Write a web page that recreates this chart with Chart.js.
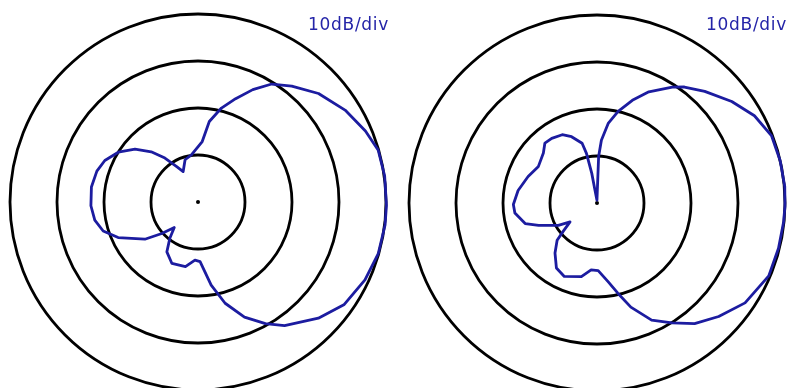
<!DOCTYPE html>
<html>
<head>
<meta charset="utf-8">
<script src="https://cdn.jsdelivr.net/npm/chart.js@4.4.1/dist/chart.umd.min.js"></script>
<style>
  html, body { margin: 0; padding: 0; background: #fff; }
  body { width: 790px; height: 388px; position: relative; overflow: hidden; }
  .plot { position: absolute; width: 388px; height: 388px; }
  #left-plot { left: 4px; top: 8px; }
  #right-plot { left: 403px; top: 9px; }
  .scale-note {
    position: absolute;
    font-family: "DejaVu Sans", Verdana, sans-serif;
    font-size: 17px;
    line-height: 17px;
    letter-spacing: 0.7px;
    color: #2424a8;
    white-space: nowrap;
  }
</style>
</head>
<body>
<div class="plot" id="left-plot"><canvas id="left-chart"></canvas></div>
<div class="plot" id="right-plot"><canvas id="right-chart"></canvas></div>
<div class="scale-note" style="left:308px; top:16px;">10dB/div</div>
<div class="scale-note" style="left:706px; top:16px;">10dB/div</div>
<script>
// one label per degree, clockwise from the top
const angleLabels = Array.from({ length: 360 }, (_, i) => i);

// ring values in dB (outer ring = 0 dB, centre = -40 dB)
const ringMin = -40;
const ringMax = 0;
const ringStep = 10;

// left pattern: angle (deg) and level (dB)
const leftAngles = [4, 8, 14, 20, 26, 32, 39, 48, 58, 67, 74, 82, 91, 97, 106, 115, 125, 134, 145, 151,
  158, 165, 171, 178, 183, 191, 203, 212, 218, 223, 229, 235, 246, 253, 260, 268, 278, 287, 294, 302,
  310, 317, 323, 329, 334, 343, 352];
const leftDb = [-27.1, -22.7, -19.4, -16.6, -13.4, -10.4, -8.3, -5.5, -3.1, -1.3, -0.1, 0.1, 0.1, 0.1, -0.1, -0.8, -2.0, -4.4, -7.9, -10.4,
  -13.6, -17.7, -22.1, -27.3, -27.6, -26.0, -25.8, -27.5, -30.3, -32.6, -29.8, -26.2, -21.4, -18.9, -17.7, -17.2, -17.1, -17.5, -18.3, -20.0,
  -22.5, -25.4, -28.3, -31.2, -32.8, -30.6, -29.9];

// right pattern: angle (deg) and level (dB)
const rightAngles = [2, 4, 8, 13, 19, 25, 33, 37, 44, 53, 61, 69, 77, 85, 91, 96, 104, 113, 124, 133,
  141, 148, 155, 162, 167, 172, 179, 185, 192, 204, 212, 220, 227, 230, 235, 240, 249, 254, 263, 269,
  279, 291, 302, 313, 319, 325, 333, 339, 346, 348, 350, 351, 359];
const rightDb = [-30.1, -26.6, -22.9, -20.0, -16.9, -13.9, -10.6, -9.1, -7.0, -4.1, -1.7, -0.2, 0.0, 0.1, 0.0, -0.1, -0.2, -0.3, -2.0, -4.6,
  -7.0, -9.9, -12.5, -16.7, -20.3, -23.1, -25.6, -25.7, -24.0, -22.9, -23.7, -26.1, -28.4, -30.6, -33.0, -30.5, -26.7, -24.1, -22.4, -22.2,
  -23.0, -24.3, -25.3, -24.4, -23.1, -23.2, -23.7, -24.9, -26.9, -29.2, -33.6, -37.2, -39.4];

const centreAngles = [0];
const centreDb = [-40];

const patternColor = '#1c1ca0';
const ringColor = '#000000';

function toSeries(angles, values) {
    const series = angleLabels.map(() => null);
    angles.forEach((a, i) => { series[a] = values[i]; });
    return series;
}

function makePolar(canvasId, angles, values) {
    const ctx = document.getElementById(canvasId).getContext('2d');
    return new Chart(ctx, {
        type: 'radar',
        data: {
            labels: angleLabels,
            datasets: [{
                data: toSeries(angles, values),
                borderColor: patternColor,
                borderWidth: 2.8,
                borderJoinStyle: 'round',
                pointRadius: 0,
                fill: false,
                spanGaps: true,
                tension: 0
            }, {
                data: toSeries(centreAngles, centreDb),
                borderWidth: 0,
                pointRadius: 2,
                pointBorderWidth: 0,
                pointBackgroundColor: ringColor,
                fill: false
            }]
        },
        options: {
            responsive: true,
            maintainAspectRatio: false,
            animation: false,
            layout: { padding: 6 },
            plugins: { legend: { display: false }, tooltip: { enabled: false } },
            scales: {
                r: {
                    min: ringMin,
                    max: ringMax,
                    ticks: { display: false, stepSize: ringStep },
                    grid: { circular: true, color: ringColor, lineWidth: 2.8 },
                    angleLines: { display: false },
                    pointLabels: { display: false }
                }
            }
        }
    });
}

makePolar('left-chart', leftAngles, leftDb);
makePolar('right-chart', rightAngles, rightDb);
</script>
</body>
</html>
